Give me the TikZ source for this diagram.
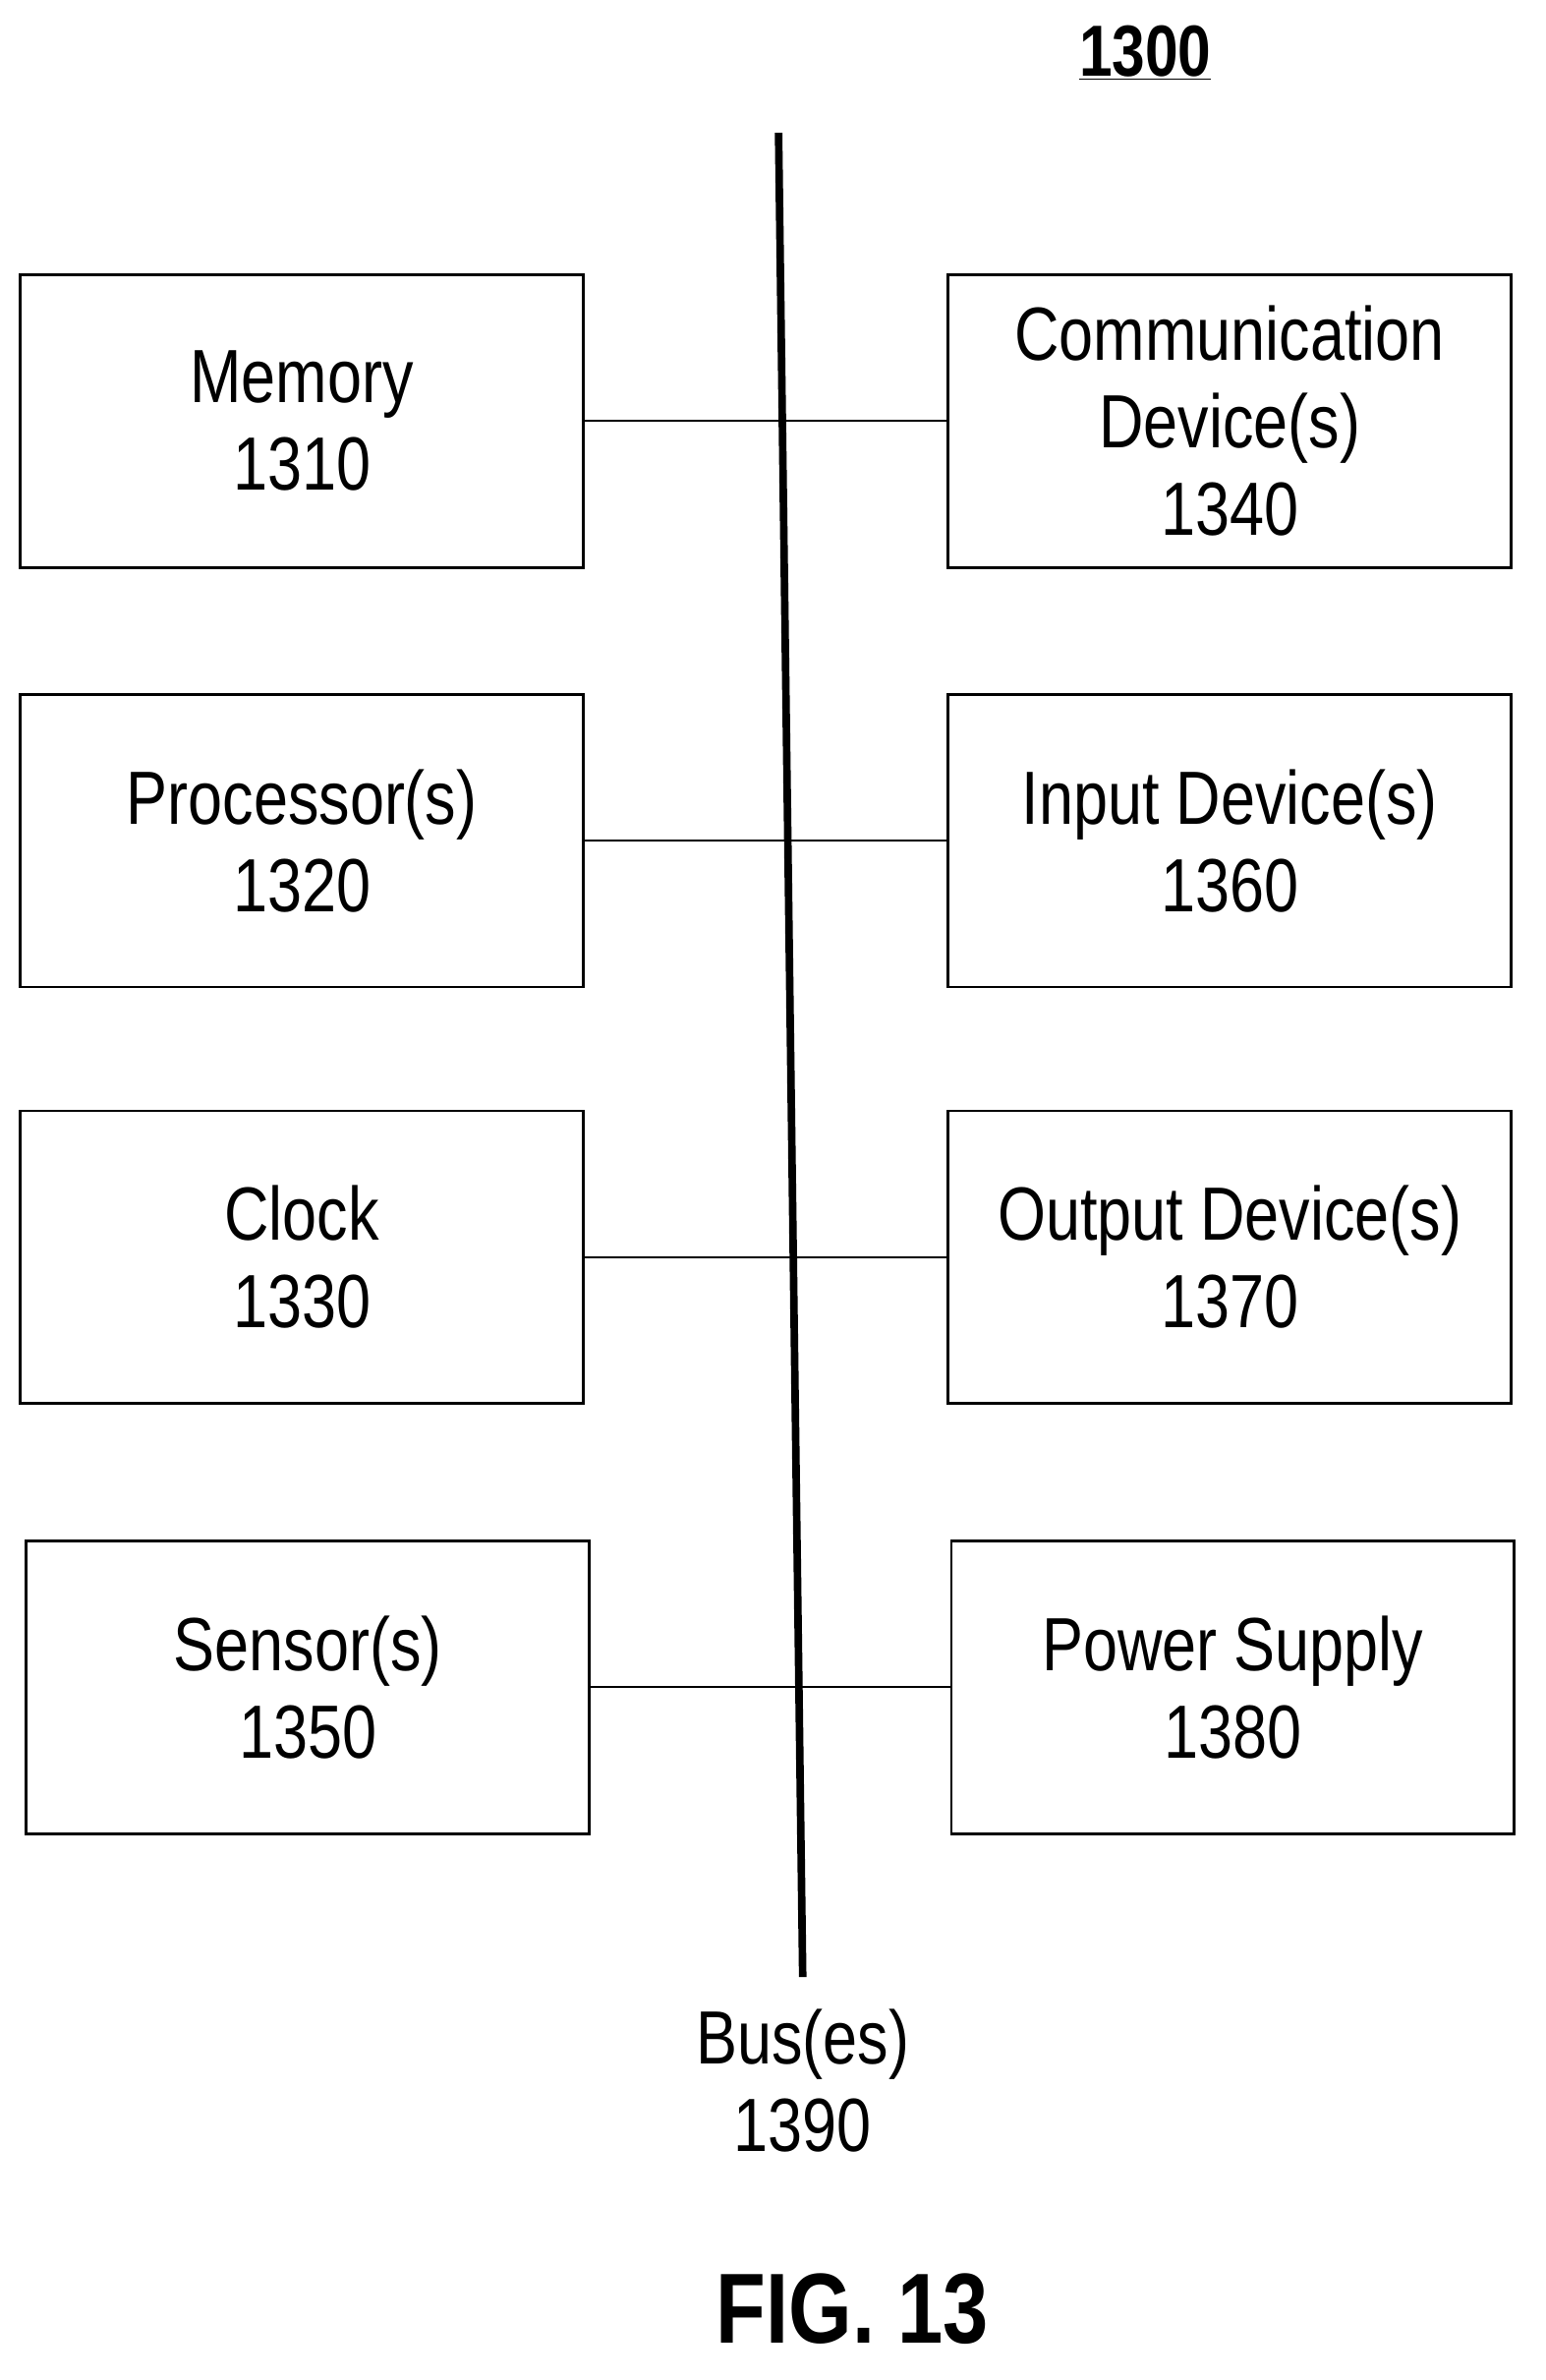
\documentclass[tikz,border=0pt]{standalone}
\usepackage{fontspec}
\setmainfont{Liberation Sans}[FakeStretch=0.82]
\usetikzlibrary{positioning}
\tikzset{
    unit box/.style = {draw, line width=1.8pt, minimum width=373pt, minimum height=194pt,
                       align=center, font=\fontsize{50}{58}\selectfont},
    link/.style = {line width=1.3pt},
    bus/.style = {line width=5pt},
}
\begin{document}
\begin{tikzpicture}[x=1pt,y=-1pt]
    \useasboundingbox (0,0) rectangle (1024,1577);
    \node [unit box] (mem)  at (200,279)  {Memory\\1310};
    \node [unit box] (proc) at (200,557)  {Processor(s)\\1320};
    \node [unit box] (clk)  at (200,833)  {Clock\\1330};
    \node [unit box] (sens) at (204,1118) {Sensor(s)\\1350};
    \node [unit box] (comm) at (815,279)  {Communication\\Device(s)\\1340};
    \node [unit box] (inp)  at (815,557)  {Input Device(s)\\1360};
    \node [unit box] (outp) at (815,833)  {Output Device(s)\\1370};
    \node [unit box] (pwr)  at (817,1118) {Power Supply\\1380};

    \coordinate (bustop) at (516,88);
    \coordinate (busend) at (532,1310);
    \draw [bus] (bustop) -- (busend);
    \node [align=center, font=\fontsize{50}{58}\selectfont, below=18pt of busend] (buslbl) {Bus(es)\\1390};

    \draw [link] (mem)  -- (comm);
    \draw [link] (proc) -- (inp);
    \draw [link] (clk)  -- (outp);
    \draw [link] (sens) -- (pwr);

    \node [font=\fontsize{48}{52}\selectfont\bfseries] (title) at (759,35) {\underline{1300}};
    \node [font=\fontsize{66}{70}\selectfont\bfseries] (fig) at (565,1530) {FIG. 13};
\end{tikzpicture}
\end{document}
